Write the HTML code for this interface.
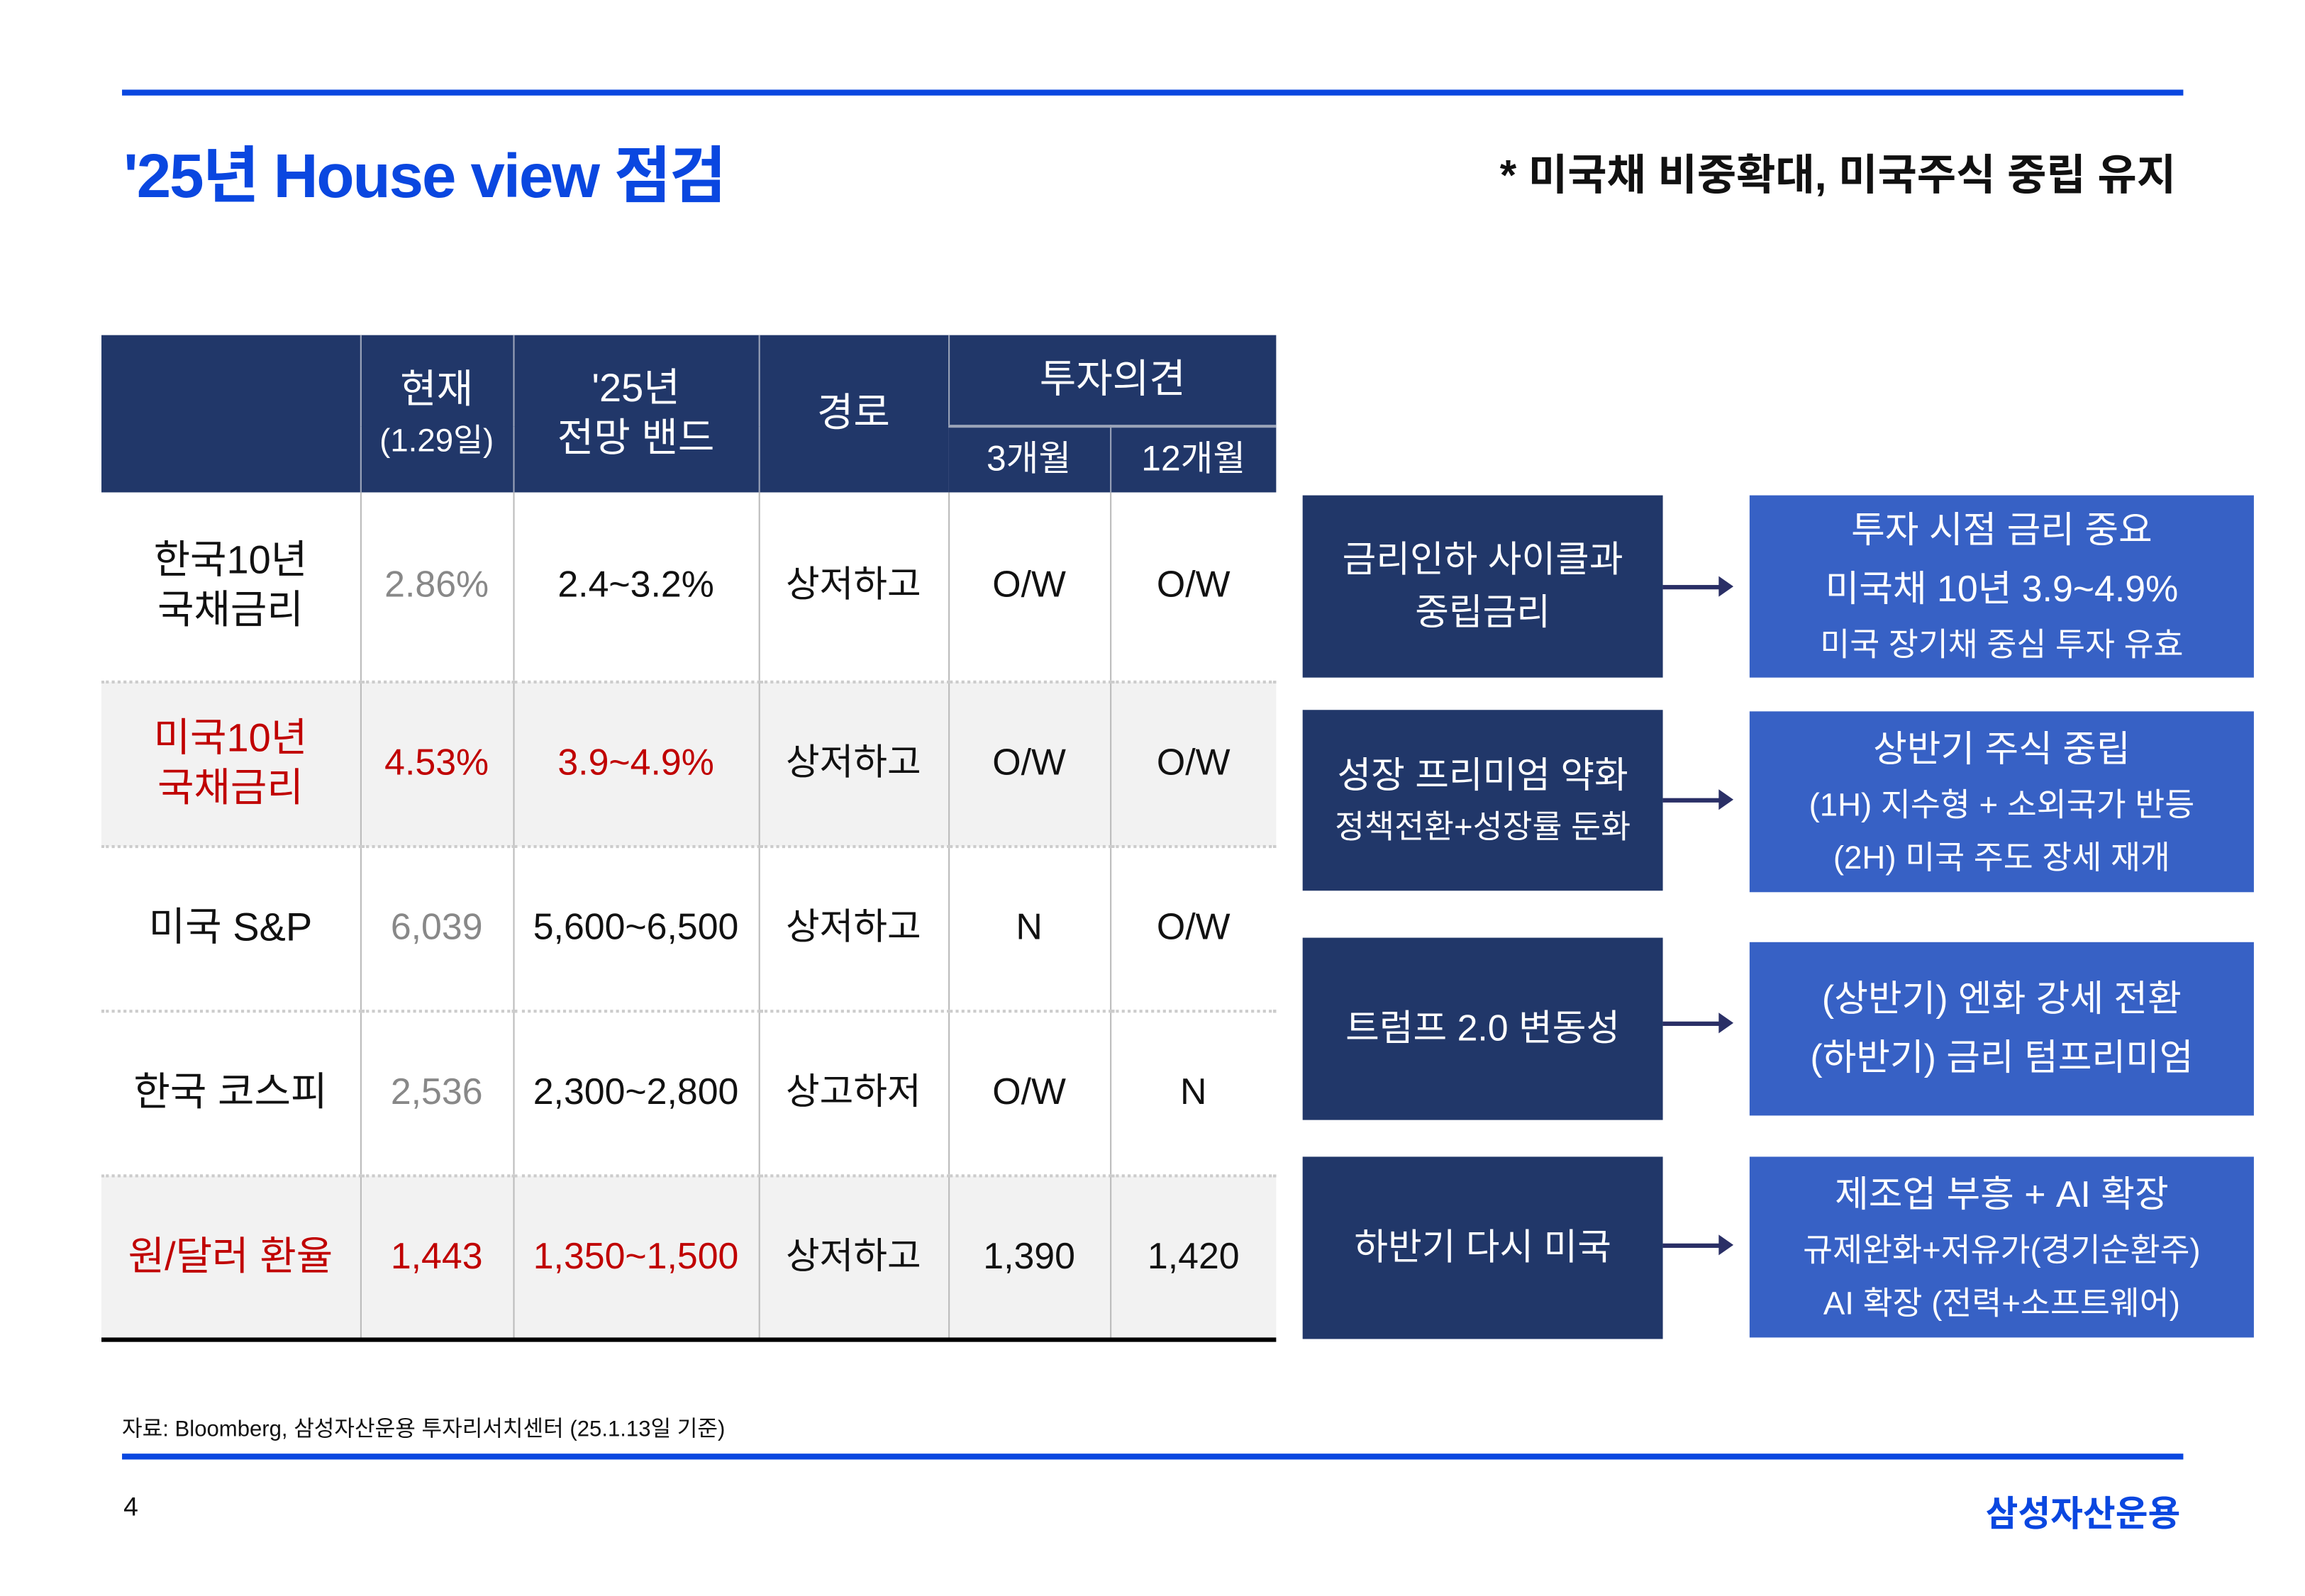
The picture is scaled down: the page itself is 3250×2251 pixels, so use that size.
<!DOCTYPE html>
<html><head><meta charset="utf-8">
<style>
html,body{margin:0;padding:0;background:#fff;}
body{width:3250px;height:2250px;overflow:hidden;position:relative;}
#s{position:absolute;left:0;top:0;width:1568px;height:1086px;transform:scale(2.073);transform-origin:0 0;font-family:"Liberation Sans","Noto Sans CJK KR",sans-serif;}
.a{position:absolute;}
table{border-collapse:collapse;table-layout:fixed;position:absolute;left:69px;top:228px;}
td{text-align:center;vertical-align:middle;padding:0;font-size:25px;color:#111;line-height:1.25;white-space:nowrap;}
thead td{background:#213769;color:#fff;border-left:1px solid #9aa3b8;font-size:27px;}
thead td:first-child{border-left:none;}
tbody td{border-left:1px solid #bbb;border-top:2px dotted #ccc;}
tbody td:first-child{border-left:none;font-size:27px;}
tbody tr.g td{background:#f2f2f2;}
.r{color:#c00000!important;}
.gy{color:#888;}
.box{position:absolute;color:#fff;display:flex;flex-direction:column;justify-content:center;align-items:center;text-align:center;line-height:1.45;white-space:nowrap;}
.d{background:#213769;left:886px;width:245px;font-size:25px;}
.b{background:#3761c5;left:1190px;width:343px;font-size:25px;}
.sm{font-size:22px;}
.arr{position:absolute;left:1131px;width:40px;height:3px;background:#2a2f66;}
.arr:after{content:"";position:absolute;right:-8px;top:-6px;border-left:10px solid #2a2f66;border-top:7.5px solid transparent;border-bottom:7.5px solid transparent;}
</style></head><body><div id="s">
<div class="a" style="left:83px;top:61px;width:1402px;height:4px;background:#0a47e0"></div>
<div class="a" style="left:84px;top:86px;font-size:42px;font-weight:bold;color:#0a47e0;letter-spacing:-1px">'25년 House view 점검</div>
<div class="a" style="right:88px;top:96px;font-size:29px;font-weight:bold;color:#111">* 미국채 비중확대, 미국주식 중립 유지</div>

<table>
<colgroup><col style="width:176px"><col style="width:104px"><col style="width:167px"><col style="width:129px"><col style="width:110px"><col style="width:113px"></colgroup>
<thead>
<tr style="height:62px"><td rowspan="2"></td><td rowspan="2" style="line-height:1.2">현재<br><span style="font-size:22px">(1.29일)</span></td><td rowspan="2" style="line-height:1.25">'25년<br>전망 밴드</td><td rowspan="2">경로</td><td colspan="2" style="border-bottom:2px solid #9aa3b8">투자의견</td></tr>
<tr style="height:45px"><td style="border-left:none;font-size:24px">3개월</td><td style="font-size:24px">12개월</td></tr>
</thead>
<tbody>
<tr style="height:129px"><td style="border-top:none">한국10년<br>국채금리</td><td class="gy" style="border-top:none">2.86%</td><td style="border-top:none">2.4~3.2%</td><td style="border-top:none">상저하고</td><td style="border-top:none">O/W</td><td style="border-top:none">O/W</td></tr>
<tr class="g" style="height:112px"><td class="r">미국10년<br>국채금리</td><td class="r">4.53%</td><td class="r">3.9~4.9%</td><td>상저하고</td><td>O/W</td><td>O/W</td></tr>
<tr style="height:112px"><td>미국 S&amp;P</td><td class="gy">6,039</td><td>5,600~6,500</td><td>상저하고</td><td>N</td><td>O/W</td></tr>
<tr style="height:112px"><td>한국 코스피</td><td class="gy">2,536</td><td>2,300~2,800</td><td>상고하저</td><td>O/W</td><td>N</td></tr>
<tr class="g" style="height:111px"><td class="r">원/달러 환율</td><td class="r">1,443</td><td class="r">1,350~1,500</td><td>상저하고</td><td>1,390</td><td>1,420</td></tr>
</tbody>
</table>
<div class="a" style="left:69px;top:910px;width:799px;height:3px;background:#000"></div>

<div class="box d" style="top:337px;height:124px">금리인하 사이클과<br>중립금리</div>
<div class="box d" style="top:483px;height:123px"><span>성장 프리미엄 약화</span><span class="sm">정책전환+성장률 둔화</span></div>
<div class="box d" style="top:638px;height:124px">트럼프 2.0 변동성</div>
<div class="box d" style="top:787px;height:124px">하반기 다시 미국</div>

<div class="box b" style="top:337px;height:124px;line-height:1.6"><span>투자 시점 금리 중요</span><span>미국채 10년 3.9~4.9%</span><span class="sm">미국 장기채 중심 투자 유효</span></div>
<div class="box b" style="top:484px;height:123px;line-height:1.6"><span>상반기 주식 중립</span><span class="sm">(1H) 지수형 + 소외국가 반등</span><span class="sm">(2H) 미국 주도 장세 재개</span></div>
<div class="box b" style="top:641px;height:118px;line-height:1.6">(상반기) 엔화 강세 전환<br>(하반기) 금리 텀프리미엄</div>
<div class="box b" style="top:787px;height:123px;line-height:1.6"><span>제조업 부흥 + AI 확장</span><span class="sm">규제완화+저유가(경기순환주)</span><span class="sm">AI 확장 (전력+소프트웨어)</span></div>

<div class="arr" style="top:398px"></div>
<div class="arr" style="top:543px"></div>
<div class="arr" style="top:695px"></div>
<div class="arr" style="top:846px"></div>

<div class="a" style="left:83px;top:961px;font-size:15px;color:#111">자료: Bloomberg, 삼성자산운용 투자리서치센터 (25.1.13일 기준)</div>
<div class="a" style="left:83px;top:989px;width:1402px;height:4px;background:#0a47e0"></div>
<div class="a" style="left:84px;top:1015px;font-size:18px;color:#111">4</div>
<div class="a" style="right:85px;top:1010px;font-size:24px;font-weight:bold;color:#0a47e0">삼성자산운용</div>
</div></body></html>
